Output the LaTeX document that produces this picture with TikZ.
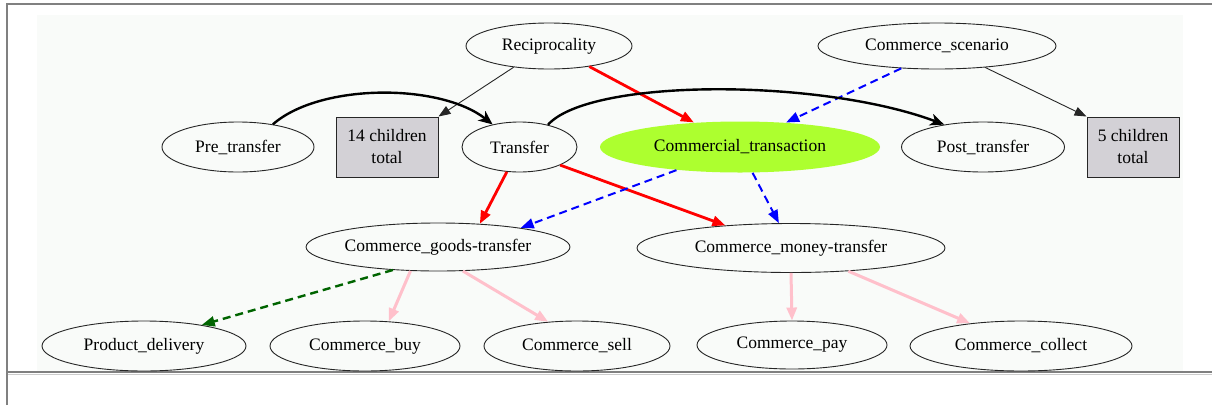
\documentclass[tikz,border=0pt]{standalone}
\usepackage{fontspec}
\setmainfont{Liberation Serif}
\usetikzlibrary{shapes.geometric,arrows.meta}
\definecolor{bgc}{RGB}{249,251,249}
\definecolor{ygreen}{RGB}{173,255,47}
\definecolor{boxgray}{RGB}{211,209,214}
\definecolor{framegray}{RGB}{128,128,128}
\definecolor{pinkc}{RGB}{255,192,203}
\definecolor{dgreen}{RGB}{0,100,0}
\tikzset{
  fr/.style={ellipse, draw=black!85, line width=0.9pt, inner sep=0pt,
    font=\fontsize{17.5}{22}\selectfont, text=black},
  boxnode/.style={rectangle, draw=black!85, line width=1pt, fill=boxgray,
    inner sep=0pt, align=center, font=\fontsize{17.5}{22}\selectfont, text=black},
  thinarr/.style={draw=black!85, line width=0.9pt, -{Triangle[length=12pt,width=9pt]}},
  redarr/.style={draw=red, line width=2.8pt, -{Triangle[length=13pt,width=10pt]}},
  bluearr/.style={draw=blue, line width=2pt, dash pattern=on 8pt off 5pt,
    -{Triangle[length=13pt,width=10pt]}},
  greenarr/.style={draw=dgreen, line width=2.4pt, dash pattern=on 8pt off 5pt,
    -{Triangle[length=13pt,width=10pt]}},
  pinkarr/.style={draw=pinkc, line width=3pt, -{Triangle[length=13pt,width=10pt]}},
  curvearr/.style={draw=black, line width=2.4pt, -{Stealth[length=14pt,width=12pt,inset=4pt]}},
}
\begin{document}
\begin{tikzpicture}[x=1pt,y=-1pt]
\useasboundingbox (0,0) rectangle (1212,405);
\fill[bgc] (37,15) rectangle (1183,372);
\draw[framegray, line width=1.2pt] (7,405) -- (7,4) -- (1212,4);
\draw[framegray, line width=2.5pt] (8,372) -- (1212,372);
\draw[black!20, line width=1pt] (8,374.5) -- (1212,374.5);

\node[fr, minimum width=166pt, minimum height=46pt] (recip) at (549,46) {Reciprocality};
\node[fr, minimum width=238pt, minimum height=46pt] (scen) at (937,46) {Commerce\_scenario};
\node[fr, minimum width=152pt, minimum height=50pt] (pre) at (238,147) {Pre\_transfer};
\node[boxnode, minimum width=102pt, minimum height=60pt] (c14) at (387,147) {14 children\\total};
\node[fr, minimum width=115pt, minimum height=50pt] (transfer) at (519.5,147) {Transfer};
\node[fr, draw=none, fill=ygreen, minimum width=280pt, minimum height=51pt] (comm) at (740,147) {Commercial\_transaction};
\node[fr, minimum width=163pt, minimum height=50pt] (post) at (983,147) {Post\_transfer};
\node[boxnode, minimum width=92pt, minimum height=60pt] (c5) at (1133,147) {5 children\\total};
\node[fr, minimum width=244pt, minimum height=48pt] (goods) at (438,247) {Commerce\_goods-transfer};
\node[fr, minimum width=308pt, minimum height=49pt] (money) at (791,248) {Commerce\_money-transfer};
\node[fr, minimum width=204pt, minimum height=50pt] (prod) at (144,346) {Product\_delivery};
\node[fr, minimum width=190pt, minimum height=50pt] (buy) at (365,346) {Commerce\_buy};
\node[fr, minimum width=186pt, minimum height=50pt] (sell) at (577,346) {Commerce\_sell};
\node[fr, minimum width=190pt, minimum height=48pt] (pay) at (792,345) {Commerce\_pay};
\node[fr, minimum width=222pt, minimum height=50pt] (collect) at (1021,346) {Commerce\_collect};

\draw[thinarr] (recip.211) -- (c14.north east);
\draw[redarr] (recip.-27) -- (comm.152);
\draw[bluearr] (scen.212) -- (comm.28);
\draw[thinarr] (scen.-24) -- (c5.north west);
\draw[curvearr] (pre.33) .. controls (320,83) and (440,83) .. (transfer.140);
\draw[curvearr] (transfer.38) .. controls (590,78) and (820,78) .. (post.150);
\draw[redarr] (transfer.243) -- (goods.29);
\draw[redarr] (transfer.-24) -- (money.161);
\draw[bluearr] (comm.200) -- (goods.13);
\draw[bluearr] (comm.-64) -- (money.116);
\draw[greenarr] (goods.207) -- (prod.20);
\draw[pinkarr] (goods.221) -- (buy.46);
\draw[pinkarr] (goods.-44) -- (sell.140);
\draw[pinkarr] (money.-90) -- (pay.90);
\draw[pinkarr] (money.-22) -- (collect.156);
\end{tikzpicture}
\end{document}
